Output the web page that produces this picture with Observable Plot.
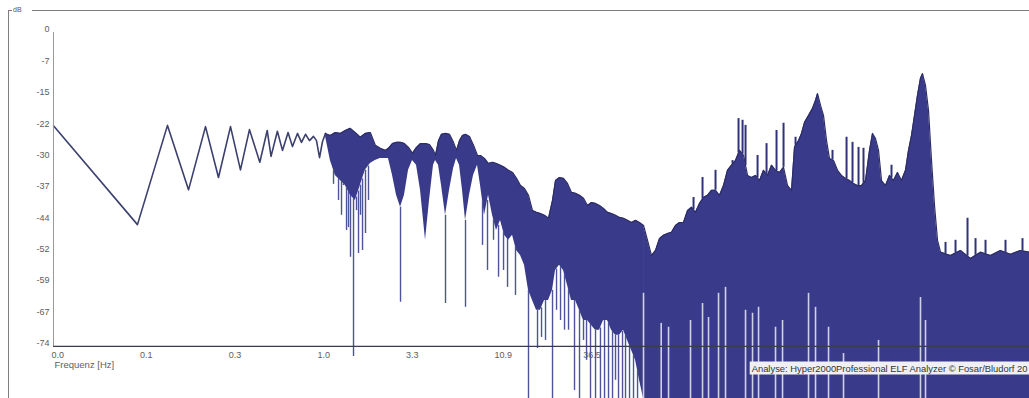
<!DOCTYPE html>
<html><head><meta charset="utf-8">
<script src="https://cdn.jsdelivr.net/npm/d3@7"></script>
<script src="https://cdn.jsdelivr.net/npm/@observablehq/plot@0.6"></script>
<style>
body{margin:0;background:#fff;}
#wrap{position:relative;width:1029px;height:398px;overflow:hidden;font-family:"Liberation Sans",Arial,sans-serif;}
#frame{position:absolute;left:8px;top:10px;right:-2px;bottom:-2px;border-left:1px solid #7d7d7d;border-top:1px solid #7d7d7d;pointer-events:none;}
#dblabel{position:absolute;left:12px;top:6px;font-size:7px;color:#555;background:#fff;padding:0 10px 0 1px;line-height:8px;}
</style></head><body>
<div id="wrap"><div id="chart"></div><div id="frame"></div><div id="dblabel">dB</div></div>
<script>
// Low-frequency part (clear zigzag line)
const lowFreq = [0.0267, 0.0835, 0.1255, 0.167, 0.2103, 0.2508, 0.2953, 0.338, 0.382, 0.4395, 0.486, 0.512, 0.558, 0.598, 0.645, 0.685, 0.733, 0.774, 0.8176, 0.863, 0.9113, 0.949, 0.989, 1.030, 1.0725];
const lowDb = [-22.0, -45.3, -21.9, -37.1, -22.2, -34.2, -22.2, -32.4, -22.9, -30.6, -23.1, -29.2, -23.3, -27.8, -23.6, -26.9, -23.8, -25.9, -24.0, -25.5, -24.5, -25.5, -29.5, -25.7, -23.8];

// Middle part: dense lobes (upper envelope and lower edge of the dense fill)
const lobeFreq = [
  1.070, 1.146, 1.226, 1.312, 1.404, 1.503, 1.609, 1.721, 1.842, 1.972,
  2.110, 2.258, 2.417, 2.522, 2.665, 2.813, 2.970, 3.135, 3.311, 3.495,
  3.690, 3.896, 4.170, 4.403, 4.648, 4.776, 4.975, 5.183, 5.471, 5.777,
  6.099, 6.353, 6.617, 6.891, 7.178, 7.578, 8.001, 8.448, 8.800, 9.291,
  9.809, 10.36, 10.93, 11.54, 12.19, 12.87, 13.59, 14.35, 15.15, 15.99,
  16.88, 17.83, 18.82, 19.87, 20.98, 22.15, 23.39, 24.36, 25.72, 27.16,
  28.67, 30.27, 31.96, 33.75, 35.63, 37.62, 39.72, 41.94, 44.28, 46.75,
  49.36, 52.12, 55.02, 58.10, 61.34, 64.76, 68.38, 72.20, 76.23, 80.48];
const lobeTop = [
  -23.8, -24.3, -23.6, -23.8, -23.1, -22.6, -23.6, -24.7, -23.8, -23.6,
  -26.6, -27.3, -27.8, -27.3, -26.2, -25.9, -25.9, -26.2, -27.1, -28.5,
  -27.1, -26.2, -26.2, -26.4, -27.8, -29.0, -25.5, -24.0, -23.8, -24.0,
  -25.9, -27.8, -25.5, -24.3, -24.0, -24.5, -26.6, -29.0, -29.0, -29.7,
  -30.9, -30.6, -30.9, -31.3, -31.8, -32.5, -33.0, -34.4, -36.1, -36.8,
  -38.4, -42.0, -42.4, -42.7, -43.1, -43.8, -39.6, -34.9, -34.2, -34.4,
  -35.6, -37.7, -37.9, -38.4, -39.1, -40.8, -40.1, -40.3, -40.8, -41.5,
  -42.4, -42.7, -43.1, -43.6, -43.8, -44.3, -44.8, -44.3, -44.8, -45.5];
const lobeBottom = [
  -24.3, -30.2, -33.7, -34.9, -36.1, -38.4, -39.6, -36.1, -32.5, -30.9,
  -30.2, -29.7, -29.7, -29.7, -33.7, -38.4, -41.2, -38.4, -32.5, -30.2,
  -31.3, -37.2, -49.0, -39.6, -31.3, -30.2, -31.3, -36.1, -43.1, -37.2,
  -32.1, -29.7, -31.3, -37.2, -44.3, -38.4, -33.7, -31.3, -36.1, -43.1,
  -38.4, -43.1, -46.7, -44.3, -47.8, -49.0, -47.8, -51.4, -52.6, -54.9,
  -60.8, -63.2, -65.5, -65.5, -63.2, -63.2, -60.8, -56.1, -54.9, -56.1,
  -59.6, -63.2, -63.2, -65.5, -67.9, -67.9, -69.1, -70.2, -70.2, -67.9,
  -67.9, -70.2, -71.4, -71.4, -70.2, -72.6, -74.9, -77.3, -82.0, -86.3];

// High part: solid mass filled down to the bottom (upper envelope)
const massFreq = [
  80.48, 84.97, 89.72, 94.72, 100, 105.6, 111.5, 117.7, 124.3, 131.2,
  138.5, 146.3, 154.4, 163.0, 172.1, 181.7, 191.9, 202.6, 213.9, 225.8,
  238.4, 251.7, 265.8, 280.6, 296.3, 312.8, 330.3, 348.7, 368.2, 388.8,
  410.5, 433.4, 457.6, 483.1, 510.2, 538.6, 568.7, 600.4, 625.3, 660.3,
  687.6, 716.2, 756.2, 798.4, 831.6, 854.5, 890.0, 927.0, 965.6, 1005,
  1062, 1121, 1183, 1249, 1319, 1393, 1470, 1553, 1639, 1731,
  1803, 1878, 1956, 2037, 2151, 2271, 2397, 2531, 2672, 2822,
  2939, 3061, 3188, 3320, 3458, 3554, 3702, 3856, 4016, 4183,
  4358, 4539, 5199, 5955, 6821, 7813, 8950, 10247, 11737, 13444, 15191];
const massTop = [
  -45.5, -49.0, -52.6, -51.4, -48.6, -47.8, -47.4, -47.1, -45.5, -44.8,
  -44.8, -42.0, -41.2, -42.4, -40.3, -38.9, -38.4, -37.2, -37.2, -38.4,
  -36.1, -32.5, -31.3, -30.2, -27.8, -29.0, -33.7, -34.2, -33.7, -34.9,
  -32.5, -33.7, -31.3, -32.5, -33.0, -31.8, -36.1, -37.2, -27.0, -25.5,
  -23.8, -21.2, -19.6, -17.9, -16.0, -14.4, -17.2, -19.6, -25.5, -29.7,
  -30.2, -32.5, -33.7, -34.4, -34.9, -35.6, -36.1, -36.1, -34.9, -27.8,
  -23.8, -25.0, -27.8, -34.9, -36.1, -33.7, -34.9, -33.0, -34.9, -32.5,
  -27.8, -24.3, -19.6, -14.8, -10.8, -9.7, -12.5, -18.4, -30.2, -40.8,
  -49.0, -51.8, -52.6, -51.4, -53.3, -51.8, -52.6, -51.4, -52.3, -51.4, -51.8];

// Deep narrow dips below the dense fill
const dipFreq = [1.196, 1.280, 1.333, 1.369, 1.427, 1.466, 1.506, 1.569, 1.634, 1.679, 1.725, 1.773, 1.846, 1.923, 2.970, 5.471, 7.178, 9.043, 9.677, 10.50, 11.24, 12.03, 12.70, 14.15, 16.88, 19.08, 20.15, 21.27, 23.39, 24.70, 26.08, 27.53, 29.07, 31.53, 33.75, 35.63, 37.12, 39.18, 41.94, 44.85, 47.39, 50.04, 52.83, 55.02, 57.31, 60.51, 63.03, 66.55, 70.25, 74.20];
const dipDb = [-35.8, -39.6, -43.1, -36.1, -46.7, -46.0, -53.0, -76.4, -42.0, -52.1, -43.1, -51.4, -47.4, -39.6, -63.6, -63.9, -64.8, -50.2, -56.1, -49.0, -57.7, -56.1, -60.1, -62.0, -86.3, -74.5, -71.9, -72.6, -86.3, -65.5, -67.9, -70.2, -70.2, -84.4, -86.3, -72.6, -77.3, -86.3, -86.3, -86.3, -86.3, -86.3, -86.3, -82.0, -86.3, -86.3, -86.3, -86.3, -86.3, -86.3];

// Narrow spikes above the envelope
const peakFreq = [158.7, 179.3, 213.9, 269.5, 292.3, 308.7, 321.5, 378.5, 427.6, 489.7, 538.6, 633.9, 1047, 1267, 1374, 1491, 1595, 2333, 4858, 5564, 6548, 7300, 8361, 10967, 13814];
const peakDb = [-38.9, -34.2, -32.5, -30.2, -20.3, -20.7, -21.9, -29.0, -26.2, -23.1, -21.4, -24.7, -27.8, -24.7, -25.9, -27.1, -27.3, -31.3, -49.5, -49.0, -43.8, -48.6, -49.0, -49.0, -48.6];

// Light gaps inside the solid mass (from level down to bottom)
const gapFreq = [80.48, 102.3, 113.0, 152.3, 179.3, 194.5, 222.8, 245.0, 321.5, 353.5, 383.6, 483.1, 531.3, 756.2, 831.6, 992.2, 1216, 1956, 3458, 3702];
const gapDb = [-61.5, -68.6, -69.5, -67.9, -63.9, -67.2, -61.5, -60.1, -65.5, -66.2, -64.8, -69.5, -67.9, -61.5, -64.8, -69.5, -75.7, -72.6, -62.5, -67.9];

// Axes
const xTickValues = [0.0267, 0.0889, 0.296, 0.987, 3.29, 10.94, 36.45];
const xTickLabels = ["0.0", "0.1", "0.3", "1.0", "3.3", "10.9", "36.5"];
const yTickValues = [0, -7.4, -14.8, -22.2, -29.6, -37, -44.4, -51.8, -59.2, -66.6, -74];
const yTickLabels = ["0", "-7", "-15", "-22", "-30", "-37", "-44", "-52", "-59", "-67", "-74"];
const xDomain = [0.0267, 15191];
const yDomain = [-86.3, 0];
const axisDb = -74;
const xTitle = "Frequenz [Hz]";
const credit = "Analyse: Hyper2000Professional ELF Analyzer \u00a9 Fosar/Bludorf 20";

// helpers
function interpLog(freqs, vals, f) {
  const lf = freqs.map(Math.log), l = Math.log(f);
  const i = d3.bisectRight(lf, l);
  if (i <= 0) return vals[0];
  if (i >= lf.length) return vals[vals.length - 1];
  const t = (l - lf[i - 1]) / (lf[i] - lf[i - 1]);
  return vals[i - 1] + t * (vals[i] - vals[i - 1]);
}
const allTopF = lobeFreq.concat(massFreq.slice(1));
const allTop = lobeTop.concat(massTop.slice(1));

const low = lowFreq.map((f, i) => ({f, db: lowDb[i]}));
const lobes = lobeFreq.map((f, i) => ({f, top: lobeTop[i], bot: lobeBottom[i]}));
const mass = massFreq.map((f, i) => ({f, top: massTop[i]}));
const dips = dipFreq.map((f, i) => ({f, from: interpLog(lobeFreq, lobeBottom, f), to: dipDb[i]}));
const peaks = peakFreq.map((f, i) => ({f, from: interpLog(allTopF, allTop, f), to: peakDb[i]}));
const gaps = gapFreq.map((f, i) => ({f, from: gapDb[i]}));

const fill = "#3a3a8a";
const chart = Plot.plot({
  width: 1029, height: 398,
  marginLeft: 53, marginRight: 0, marginTop: 32, marginBottom: 0,
  x: {type: "log", domain: xDomain, axis: null},
  y: {domain: yDomain, axis: null},
  style: {fontFamily: "'Liberation Sans', Arial, sans-serif", background: "#fff"},
  marks: [
    Plot.text(xTickValues, {x: d => d, y: axisDb, text: (d, i) => xTickLabels[i], textAnchor: "start", dx: -2, dy: 9, fontSize: 9, fill: "#5e5e5e"}),
    Plot.line(low, {x: "f", y: "db", stroke: "#3c406e", strokeWidth: 1.6}),
    Plot.areaY(lobes, {x: "f", y1: "bot", y2: "top", fill: fill}),
    Plot.areaY(mass, {x: "f", y1: yDomain[0], y2: "top", fill: fill}),
    Plot.ruleX(dips, {x: "f", y1: "from", y2: "to", stroke: "#4d5498", strokeWidth: 1.4}),
    Plot.ruleX(peaks, {x: "f", y1: "from", y2: "to", stroke: "#31337a", strokeWidth: 2}),
    Plot.line(lobes, {x: "f", y: "top", stroke: "#2d2e66", strokeWidth: 1.2}),
    Plot.line(mass, {x: "f", y: "top", stroke: "#2d2e66", strokeWidth: 1.2}),
    Plot.ruleX(gaps, {x: "f", y1: "from", y2: yDomain[0], stroke: "#cfd1ea", strokeWidth: 1.6}),
    Plot.ruleX([xDomain[0]], {y1: 0, y2: axisDb, stroke: "#9a9a9a"}),
    Plot.ruleY([axisDb], {stroke: "#3a3a55", strokeWidth: 1.2}),
    Plot.text(yTickValues, {x: xDomain[0], y: d => d, text: (d, i) => yTickLabels[i], textAnchor: "end", dx: -4, dy: -3, fontSize: 9, fill: "#5e5e5e"}),
    Plot.text([xTitle], {x: xDomain[0], y: axisDb, text: d => d, textAnchor: "start", dx: 1, dy: 19, fontSize: 9.5, fill: "#5e5e5e"}),
    Plot.text([credit], {frameAnchor: "bottom-right", text: d => d, textAnchor: "end", dx: -2, dy: -27, fontSize: 9.4, fill: "#333"})
  ]
});
document.getElementById("chart").appendChild(chart);

// light box behind the credit text
const t = [...chart.querySelectorAll("text")].find(e => e.textContent.startsWith("Analyse"));
if (t) {
  const bb = t.getBBox();
  const r = document.createElementNS("http://www.w3.org/2000/svg", "rect");
  r.setAttribute("x", bb.x - 2);
  r.setAttribute("y", bb.y - 1);
  r.setAttribute("width", bb.width + 8);
  r.setAttribute("height", bb.height + 2);
  r.setAttribute("fill", "#efeff4");
  if (t.getAttribute("transform")) r.setAttribute("transform", t.getAttribute("transform"));
  t.parentNode.insertBefore(r, t);
}
</script></body></html>
